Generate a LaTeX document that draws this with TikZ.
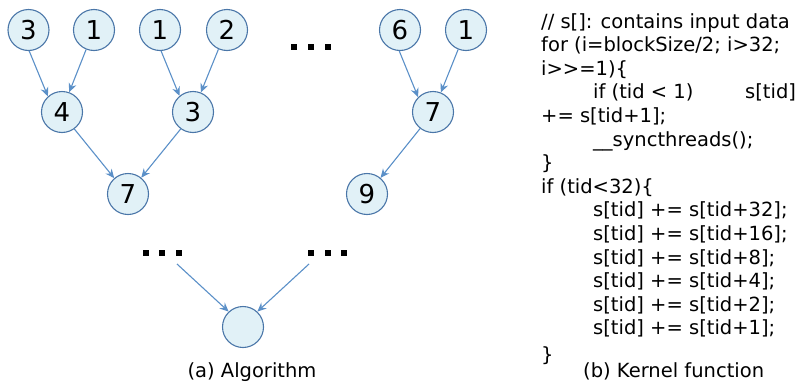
\documentclass[tikz,border=0pt]{standalone}
\usepackage{fontspec}
\setmainfont{DejaVu Sans}[Ligatures={NoCommon,NoRequired}]
\usetikzlibrary{arrows.meta}
\definecolor{nodefill}{HTML}{E1F1F7}
\definecolor{nodeline}{HTML}{4A76A8}
\definecolor{edgecol}{HTML}{5B90C8}
\tikzset{
  num/.style={circle, draw=nodeline, fill=nodefill, line width=1.1pt, minimum size=41pt, inner sep=0pt, font=\fontsize{26}{26}\selectfont},
  edge/.style={draw=edgecol, line width=1.1pt, -{Stealth[length=9pt,width=8pt,inset=3pt]}},
  dotsq/.style={fill=black, minimum size=6.5pt, inner sep=0pt},
  code/.style={anchor=base west, inner sep=0pt, font=\fontsize{19.5}{22}\selectfont},
  captext/.style={anchor=base, inner sep=0pt, font=\fontsize{19.5}{22}\selectfont}
}
\begin{document}
\begin{tikzpicture}[x=1pt,y=-1pt]
\useasboundingbox (0,0) rectangle (799,383);
% level 1
\node[num] (a1) at (28.5,30) {3};
\node[num] (a2) at (94,30) {1};
\node[num] (a3) at (160,30) {1};
\node[num] (a4) at (227,30) {2};
\node[num] (a5) at (400,30) {6};
\node[num] (a6) at (466,30) {1};
% level 2
\node[num] (b1) at (62,112) {4};
\node[num] (b2) at (193,112) {3};
\node[num] (b3) at (433,112) {7};
% level 3
\node[num] (c1) at (128,194) {7};
\node[num] (c2) at (367,194) {9};
% root
\node[num] (r) at (243,327) {};
% dots
\node[dotsq] (t1) at (294,47) {};
\node[dotsq] (t2) at (311,47) {};
\node[dotsq] (t3) at (328,47) {};
\node[dotsq] (l1) at (146,253) {};
\node[dotsq] (l2) at (162,253) {};
\node[dotsq] (l3) at (179,253) {};
\node[dotsq] (m1) at (311,253) {};
\node[dotsq] (m2) at (328,253) {};
\node[dotsq] (m3) at (344,253) {};
\coordinate (ls) at (177,264);
\coordinate (rs) at (309,264);
% edges
\draw[edge] (a1.-88) -- (b1.132);
\draw[edge] (a2.-112) -- (b1.70);
\draw[edge] (a3.-87) -- (b2.130);
\draw[edge] (a4.-114) -- (b2.68);
\draw[edge] (a5.-92) -- (b3.135);
\draw[edge] (a6.-112) -- (b3.68);
\draw[edge] (b1.-54) -- (c1.131);
\draw[edge] (b2.-126) -- (c1.51);
\draw[edge] (b3.-128) -- (c2.50);
\draw[edge] (ls) -- (r.133);
\draw[edge] (rs) -- (r.47);
% caption a
\node[captext] (capa) at (252,377) {(a) Algorithm};
% code
\node[code] (k1) at (541,28) {// s[]: contains input data};
\node[code] (k2) at (541,51.6) {for (i=blockSize/2; i>32;};
\node[code] (k3) at (541,75.2) {i>{}>=1)\{};
\node[code] (k4) at (593,98.8) {if (tid < 1)};
\node[code] (k4b) at (745,98.8) {s[tid]};
\node[code] (k5) at (541,122.4) {+= s[tid+1];};
\node[code] (k6) at (593,146) {\_\_syncthreads();};
\node[code] (k7) at (541,169.6) {\}};
\node[code] (k8) at (541,193.2) {if (tid<32)\{};
\node[code] (k9) at (593,216.8) {s[tid] += s[tid+32];};
\node[code] (k10) at (593,240.4) {s[tid] += s[tid+16];};
\node[code] (k11) at (593,264) {s[tid] += s[tid+8];};
\node[code] (k12) at (593,287.6) {s[tid] += s[tid+4];};
\node[code] (k13) at (593,311.2) {s[tid] += s[tid+2];};
\node[code] (k14) at (593,334.8) {s[tid] += s[tid+1];};
\node[code] (k15) at (541,361) {\}};
\node[code] (capb) at (583,377) {(b) Kernel function};
\end{tikzpicture}
\end{document}
